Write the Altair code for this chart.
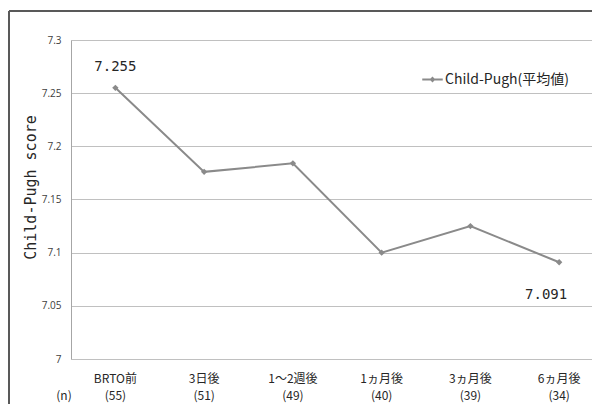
import altair as alt
import pandas as pd

categories = ["BRTO前", "3日後", "1～2週後", "1ヵ月後", "3ヵ月後", "6ヵ月後"]
n_values = [55, 51, 49, 40, 39, 34]
scores = [7.255, 7.176, 7.184, 7.100, 7.125, 7.091]
series_name = "Child-Pugh(平均値)"
y_ticks = [7.0, 7.05, 7.1, 7.15, 7.2, 7.25, 7.3]
n_header = ["(n)"]

df = pd.DataFrame({
    "idx": list(range(len(categories))),
    "category": categories,
    "n_label": [f"({n})" for n in n_values],
    "score": scores,
    "label": [f"{s:.3f}" for s in scores],
    "series": [series_name] * len(categories),
})

W, H = 521, 319
GRAY = "#8a8a8a"

xs = alt.X("idx:Q", scale=alt.Scale(domain=[-0.5, 5.37], nice=False, zero=False), axis=None)
ys = alt.Y(
    "score:Q",
    scale=alt.Scale(domain=[7.0, 7.3], nice=False, zero=False),
    axis=alt.Axis(
        values=y_ticks, format=".2~f", ticks=False, tickSize=0, labelPadding=10,
        labelFont="Open Sans", labelFontSize=10, labelColor="#404040",
        gridColor="#c0c0c0", gridWidth=1, domainColor="#a6a6a6", domainWidth=1,
        title="Child-Pugh score", titleFont="DejaVu Sans Mono", titleFontSize=15,
        titleFontWeight="normal", titleColor="#262626", titleX=-41, titleY=147,
        titleBaseline="middle", titleAngle=270,
    ),
)

base = alt.Chart(df)

line = base.mark_line(
    strokeWidth=2,
    point=alt.OverlayMarkDef(shape="diamond", size=40, filled=True, color=GRAY),
).encode(
    x=xs, y=ys,
    color=alt.Color(
        "series:N",
        scale=alt.Scale(range=[GRAY]),
        legend=alt.Legend(
            orient="none", legendX=350, legendY=28, title=None, padding=0,
            symbolType="M-1,0H1M-0.15,0L0,-0.15L0.15,0L0,0.15Z",
            symbolSize=420, symbolStrokeWidth=2, symbolFillColor=GRAY,
            symbolStrokeColor=GRAY, labelFont="Noto Sans CJK JP",
            labelFontSize=14, labelColor="#262626", labelOffset=1,
        ),
    ),
)

first_label = base.transform_filter(alt.datum.idx == 0).mark_text(
    font="DejaVu Sans Mono", fontSize=14, color="#262626", dy=-21
).encode(x=xs, y=alt.Y("score:Q"), text="label:N")

last_label = base.transform_filter(alt.datum.idx == len(categories) - 1).mark_text(
    font="DejaVu Sans Mono", fontSize=14, color="#262626", dx=-13, dy=33
).encode(x=xs, y=alt.Y("score:Q"), text="label:N")

cat_labels = base.mark_text(
    font="Noto Sans CJK JP", fontSize=12, color="#262626", baseline="middle"
).encode(x=xs, y=alt.value(H + 20), text="category:N")

n_labels = base.mark_text(
    font="Noto Sans CJK JP", fontSize=12, color="#262626", baseline="middle"
).encode(x=xs, y=alt.value(H + 37), text="n_label:N")

n_head = alt.Chart(pd.DataFrame({"t": n_header})).mark_text(
    font="Noto Sans CJK JP", fontSize=12, color="#262626", baseline="middle"
).encode(x=alt.value(-7), y=alt.value(H + 37), text="t:N")

frame_top = alt.Chart(pd.DataFrame({"t": n_header})).mark_rule(
    color="#595959", strokeWidth=2
).encode(x=alt.value(-62), x2=alt.value(W + 20), y=alt.value(-29))

frame_left = alt.Chart(pd.DataFrame({"t": n_header})).mark_rule(
    color="#595959", strokeWidth=2
).encode(x=alt.value(-62), y=alt.value(-29), y2=alt.value(H + 60))

chart = alt.layer(
    frame_top, frame_left, line, first_label, last_label, cat_labels, n_labels, n_head
).properties(
    width=W, height=H,
    autosize=alt.AutoSizeParams(type="none"),
    padding={"left": 63, "top": 32, "right": 0, "bottom": 45},
).configure_view(stroke=None).configure(background="white")

chart.save("out.html", embed_options={"renderer": "svg", "actions": False})
